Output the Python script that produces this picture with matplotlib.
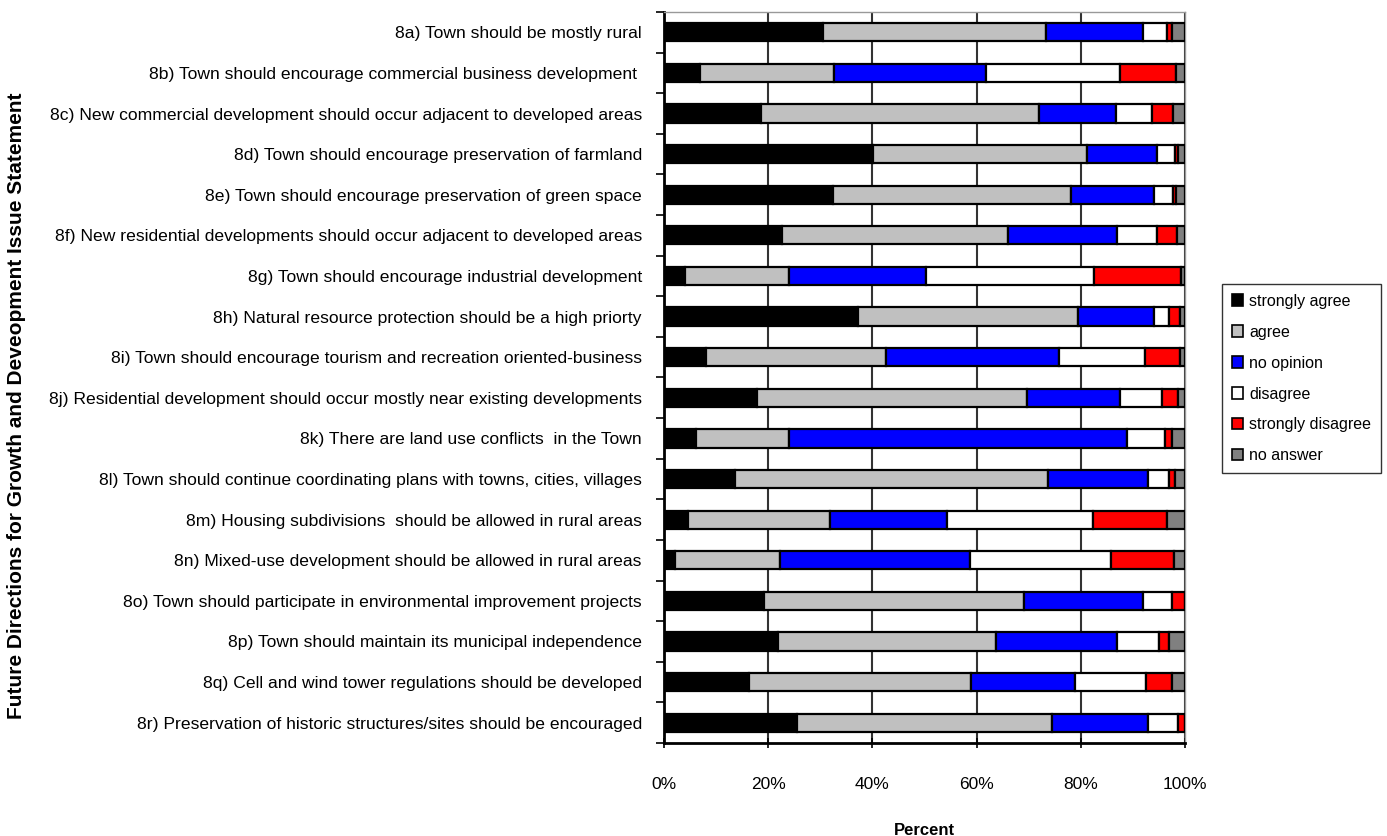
import numpy as np
import matplotlib
matplotlib.use('Agg')
import matplotlib.pyplot as plt
from matplotlib.ticker import PercentFormatter

statements = [
    '8a) Town should be mostly rural',
    '8b) Town should encourage commercial business development ',
    '8c) New commercial development should occur adjacent to developed areas',
    '8d) Town should encourage preservation of farmland',
    '8e) Town should encourage preservation of green space',
    '8f) New residential developments should occur adjacent to developed areas',
    '8g) Town should encourage industrial development',
    '8h) Natural resource protection should be a high priorty',
    '8i) Town should encourage tourism and recreation oriented-business',
    '8j) Residential development should occur mostly near existing developments',
    '8k) There are land use conflicts  in the Town',
    '8l) Town should continue coordinating plans with towns, cities, villages',
    '8m) Housing subdivisions  should be allowed in rural areas',
    '8n) Mixed-use development should be allowed in rural areas',
    '8o) Town should participate in environmental improvement projects',
    '8p) Town should maintain its municipal independence',
    '8q) Cell and wind tower regulations should be developed',
    '8r) Preservation of historic structures/sites should be encouraged',
]

responses = ['strongly agree', 'agree', 'no opinion', 'disagree',
             'strongly disagree', 'no answer']

# percent of respondents per statement (8a..8r)
strongly_agree = [30.5, 7.0, 18.6, 40.1, 32.5, 22.6, 4.0, 37.3, 8.0, 17.9,
                  6.2, 13.6, 4.6, 2.2, 19.1, 21.9, 16.3, 25.6]
agree = [42.9, 25.6, 53.3, 41.1, 45.6, 43.4, 20.0, 42.2, 34.6, 51.8,
         17.8, 60.1, 27.2, 20.0, 50.0, 41.9, 42.6, 48.8]
no_opinion = [18.5, 29.2, 14.9, 13.4, 16.0, 21.0, 26.3, 14.6, 33.3, 17.9,
              64.9, 19.2, 22.5, 36.5, 22.8, 23.2, 19.9, 18.5]
disagree = [4.7, 25.8, 6.8, 3.5, 3.6, 7.6, 32.2, 2.8, 16.4, 8.0,
            7.3, 4.0, 28.0, 27.1, 5.6, 8.0, 13.8, 5.8]
strongly_disagree = [0.9, 10.7, 4.1, 0.6, 0.6, 3.8, 16.7, 2.1, 6.8, 3.1,
                     1.3, 1.1, 14.3, 12.1, 2.5, 1.9, 4.9, 1.3]
no_answer = [2.5, 1.7, 2.3, 1.3, 1.7, 1.6, 0.8, 1.0, 0.9, 1.3,
             2.5, 2.0, 3.4, 2.1, 0.0, 3.1, 2.5, 0.0]

colors = ['#000000', '#c0c0c0', '#0000ff', '#ffffff', '#ff0000', '#808080']

series = [strongly_agree, agree, no_opinion, disagree, strongly_disagree, no_answer]

FONT = ['Liberation Sans', 'DejaVu Sans']

fig = plt.figure(figsize=(13.87, 8.36), dpi=100)
ax = fig.add_axes([664 / 1387, 1 - 743 / 836, 521 / 1387, 731 / 836])

y = np.arange(len(statements))
left = np.zeros(len(statements))
for vals, col, name in zip(series, colors, responses):
    vals = np.array(vals)
    ax.barh(y, vals, left=left, height=0.45, color=col, edgecolor='black',
            linewidth=1.6, label=name, zorder=3)
    left += vals

ax.set_xlim(0, 100)
ax.set_ylim(len(statements) - 0.5, -0.5)
ax.xaxis.set_major_formatter(PercentFormatter(decimals=0))
ax.set_xticks(np.arange(0, 101, 20))
ax.grid(axis='x', color='#333333', linewidth=1.5, zorder=0)

# category ticks sit between the bars
ax.set_yticks(y)
ax.set_yticklabels(statements, family=FONT, fontsize=12.6)
ax.set_yticks(np.arange(-0.5, len(statements), 1), minor=True)
ax.tick_params(axis='y', which='major', length=0, pad=16)
ax.tick_params(axis='y', which='minor', length=6, width=1.2, direction='out')
ax.tick_params(axis='x', length=7, width=1.2, direction='inout', pad=21,
               labelsize=12.5)
for t in ax.get_xticklabels():
    t.set_family(FONT)

for s in ['left', 'bottom']:
    ax.spines[s].set_linewidth(2)
    ax.spines[s].set_color('black')
for s in ['top', 'right']:
    ax.spines[s].set_linewidth(1)
    ax.spines[s].set_color('#999999')

ax.set_xlabel('Percent', fontsize=12, fontweight='bold', family=FONT,
              labelpad=22)
fig.text(17 / 1387, 1 - 406 / 836,
         'Future Directions for Growth and Deveopment Issue Statement',
         rotation=90, ha='center', va='center', fontsize=15,
         fontweight='bold', family=FONT)

leg = ax.legend(loc='upper left', bbox_to_anchor=(1222 / 1387, 1 - 284 / 836),
                bbox_transform=fig.transFigure, frameon=True, fancybox=False,
                edgecolor='black', handlelength=0.7, handleheight=0.7,
                handletextpad=0.4, labelspacing=1.0, borderpad=0.6,
                borderaxespad=0,
                prop={'family': FONT, 'size': 11.5})
leg.get_frame().set_linewidth(1)
for h in leg.legend_handles:
    h.set_linewidth(1.2)

fig.savefig('out.png', dpi=100)
